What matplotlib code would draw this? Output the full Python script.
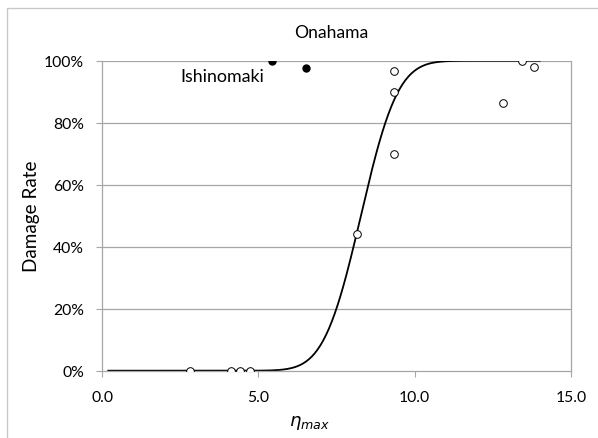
import math
import numpy as np
import matplotlib
matplotlib.use("Agg")
import matplotlib.pyplot as plt
from matplotlib.patches import Rectangle

plt.rcParams['font.family'] = ['Lato', 'DejaVu Sans']

# observed damage rates (hollow markers)
eta_obs = [2.82, 4.12, 4.42, 4.73, 8.14, 9.34, 9.34, 9.34, 12.82, 13.43, 13.83]
rate_obs = [0.0, 0.0, 0.0, 0.0, 44.2, 96.7, 90.0, 70.0, 86.5, 100.0, 98.1]

# excluded ports (filled markers)
eta_excl = [5.44, 6.52]
rate_excl = [100.0, 97.6]
excl_names = ["Ishinomaki", "Onahama"]

# fitted fragility curve (normal CDF)
curve_mu = 8.28
curve_sigma = 0.93
curve_range = (0.2, 14.0)

xticks = [0, 5, 10, 15]
yticks = [0, 20, 40, 60, 80, 100]

W, H = 598, 439
fig = plt.figure(figsize=(W / 100, H / 100), dpi=100)
ax = fig.add_axes([102 / W, 1 - 371.7 / H, (571 - 102) / W, (371.7 - 61.7) / H])

# outer border (cropped on the right and bottom)
fig.patches.append(Rectangle((7 / W, -0.05), 1.1, 1 - 9 / H + 0.05,
                             transform=fig.transFigure, fill=False,
                             edgecolor='#c8c8c8', linewidth=1.0))

xc = np.linspace(curve_range[0], curve_range[1], 300)
yc = np.array([50 * (1 + math.erf((v - curve_mu) / (curve_sigma * math.sqrt(2)))) for v in xc])

for y in yticks[1:]:
    ax.axhline(y, color='#a6a6a6', linewidth=0.9, zorder=0)

ax.plot(xc, yc, color='black', linewidth=1.3, zorder=2)
ax.plot(eta_obs, rate_obs, 'o', markersize=5.5, markerfacecolor='white',
        markeredgecolor='black', markeredgewidth=0.7, zorder=3)
ax.plot(eta_excl, rate_excl, 'o', markersize=5, color='black', zorder=3)

ax.text(3.84, 95.1, excl_names[0], ha='center', va='center', fontsize=12.8)
ax.text(7.32, 109.3, excl_names[1], ha='center', va='center', fontsize=12.6, clip_on=False)

ax.set_xlim(0, 15)
ax.set_ylim(0, 100)
ax.set_xticks(xticks)
ax.set_xticklabels([f"{v:.1f}" for v in xticks])
ax.set_yticks(yticks)
ax.set_yticklabels([f"{v}%" for v in yticks])

ax.spines['top'].set_visible(False)
for s in ['left', 'right', 'bottom']:
    ax.spines[s].set_color('#a6a6a6')
    ax.spines[s].set_linewidth(0.9)
ax.tick_params(axis='both', direction='out', length=4, color='#a6a6a6',
               labelsize=11.3)
ax.tick_params(axis='y', pad=9)
ax.tick_params(axis='x', pad=10)

ax.set_ylabel("Damage Rate", fontsize=13.6)
ax.yaxis.set_label_coords(-0.132, 0.5)
ax.set_xlabel(r"$\eta_{max}$", fontsize=13)
ax.xaxis.set_label_coords(0.443, -0.135)

fig.savefig("out.png", dpi=100)
